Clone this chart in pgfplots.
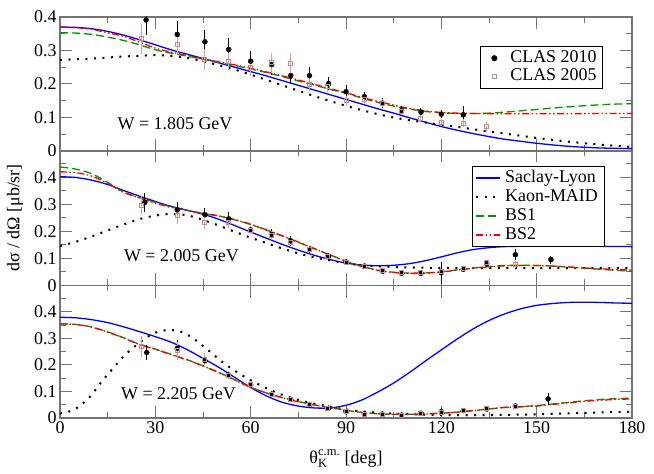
\documentclass[border=0pt]{standalone}
\usepackage{amsmath}
\usepackage{fontspec}
\setmainfont{Liberation Serif}
\usepackage{pgfplots}
\pgfplotsset{compat=1.18}
\definecolor{slblue}{RGB}{0,0,255}
\definecolor{bsgreen}{RGB}{0,150,0}
\definecolor{bsred}{RGB}{255,0,0}
\definecolor{rosy}{RGB}{195,140,140}
\definecolor{framegray}{RGB}{115,115,115}
\pgfplotsset{
  panel/.style={
    scale only axis, width=572bp, xmin=0, xmax=180, ymin=0,
    xtick={0,30,...,180}, minor xtick={15,45,...,165},
    tick align=inside, major tick length=12bp, minor tick length=6bp,
    every tick/.style={framegray, line width=1bp},
    axis line style={framegray, line width=1.2bp},
    ytick={0,0.1,0.2,0.3,0.4},
    yticklabel style={/pgf/number format/fixed},
    /pgf/number format/assume math mode=true,
    tick label style={black},
  },
  lineleg/.style={legend image code/.code={\draw[##1] (0bp,0bp) -- (24bp,0bp);}},
  markleg/.style={legend image code/.code={\path[draw=none,fill=none] (0bp,-3bp) rectangle (24bp,3bp);\draw[mark repeat=2,mark phase=2,##1] plot coordinates {(0bp,0bp) (12bp,0bp) (24bp,0bp)};}},
  sl/.style={slblue, line width=1.3bp, smooth, tension=0.5},
  km/.style={black, line width=2bp, dash pattern=on 2bp off 6.5bp, smooth, tension=0.5},
  bsa/.style={bsgreen, line width=1.3bp, dash pattern=on 8bp off 4bp, smooth, tension=0.5},
  bsb/.style={bsred, line width=1.3bp, dash pattern=on 7bp off 2.5bp on 1.5bp off 2.5bp on 1.5bp off 2.5bp, smooth, tension=0.5},
  clasA/.style={only marks, mark=*, mark size=2.5bp, black,
    error bars/y dir=both, error bars/y explicit, error bars/error mark=none,
    error bars/error bar style={black, line width=1bp}},
  clasB/.style={only marks, mark=square, mark size=2bp, rosy, mark options={line width=1bp},
    error bars/y dir=both, error bars/y explicit, error bars/error mark=none,
    error bars/error bar style={rosy!80, line width=1bp}},
}
\begin{document}
\begin{tikzpicture}[font=\fontsize{18}{21}\selectfont]
\useasboundingbox (0,0) rectangle (654bp,474bp);

% ---------------- TOP: W = 1.805 GeV ----------------
\begin{axis}[panel, at={(60bp,323bp)}, anchor=south west, height=134bp,
  ymax=0.4, minor ytick={0.05,0.15,0.25,0.35}, xticklabels={},
  legend style={at={(0.734,0.786)}, anchor=north west, draw=black, line width=1bp,
    fill=white, inner xsep=2bp, inner ysep=3bp,
    nodes={inner xsep=4bp, inner ysep=1bp, text height=12.5bp, text depth=3.5bp, black}},
  legend cell align=left]
\addplot[sl, forget plot] table {
0 0.370
5 0.369
10 0.365
15 0.357
20 0.346
25 0.332
30 0.317
35 0.302
40 0.289
45 0.276
50 0.263
55 0.250
60 0.237
65 0.224
70 0.210
75 0.196
80 0.182
85 0.168
90 0.154
95 0.140
100 0.126
105 0.113
110 0.099
115 0.086
120 0.073
125 0.062
130 0.052
135 0.043
140 0.035
145 0.029
150 0.023
160 0.014
170 0.009
180 0.007
};
\addplot[km, forget plot] table {
0 0.272
10 0.276
20 0.282
30 0.286
35 0.284
40 0.278
45 0.268
50 0.256
55 0.243
60 0.228
65 0.212
70 0.196
75 0.180
80 0.164
85 0.149
90 0.135
95 0.122
100 0.110
105 0.100
110 0.092
115 0.085
120 0.078
125 0.072
130 0.065
135 0.058
140 0.052
150 0.039
160 0.028
170 0.019
180 0.012
};
\addplot[bsa, forget plot] table {
0 0.353
5 0.352
10 0.348
15 0.340
20 0.330
25 0.317
30 0.302
35 0.292
40 0.283
45 0.274
50 0.264
55 0.255
60 0.245
65 0.234
70 0.222
75 0.209
80 0.197
85 0.184
90 0.172
95 0.158
100 0.145
105 0.134
110 0.125
115 0.118
120 0.114
125 0.112
130 0.112
135 0.113
140 0.116
145 0.120
150 0.124
155 0.128
160 0.132
165 0.135
170 0.138
175 0.140
180 0.141
};
\addplot[bsb, forget plot] table {
0 0.370
5 0.368
10 0.363
15 0.353
20 0.342
25 0.325
30 0.307
35 0.295
40 0.285
45 0.275
50 0.266
55 0.257
60 0.247
65 0.236
70 0.224
75 0.212
80 0.199
85 0.186
90 0.174
95 0.160
100 0.148
105 0.137
110 0.127
115 0.120
120 0.115
125 0.113
130 0.112
140 0.111
150 0.111
160 0.111
170 0.112
180 0.112
};
\addplot[clasA, markleg] table[y error index=2] {
27.1 0.391 0.045
36.9 0.348 0.040
45.6 0.326 0.035
53.1 0.303 0.035
60.0 0.268 0.030
66.6 0.258 0.030
72.6 0.225 0.022
78.5 0.225 0.025
84.5 0.201 0.020
90.0 0.177 0.020
95.8 0.162 0.015
101.5 0.143 0.015
107.5 0.121 0.012
113.6 0.116 0.012
120.0 0.110 0.012
126.9 0.108 0.025
};
\addlegendentry{CLAS 2010}
\addplot[clasB, markleg] table[y error index=2] {
25.7 0.335 0.045
36.9 0.318 0.030
45.6 0.273 0.030
53.1 0.268 0.025
60.0 0.248 0.025
66.6 0.263 0.030
72.6 0.260 0.030
78.5 0.198 0.020
84.1 0.192 0.015
90.0 0.150 0.015
95.8 0.153 0.012
101.5 0.143 0.012
107.5 0.118 0.010
113.6 0.098 0.010
120.0 0.085 0.010
126.9 0.083 0.012
134.3 0.073 0.015
};
\addlegendentry{CLAS 2005}
\node at (axis cs:36.2,0.081) {W = 1.805 GeV};
\end{axis}

% ---------------- MIDDLE: W = 2.005 GeV ----------------
\begin{axis}[panel, at={(60bp,188.5bp)}, anchor=south west, height=135bp,
  ymax=0.5, minor ytick={0.05,0.15,0.25,0.35,0.45}, xticklabels={},
  ylabel={dσ / dΩ [μb/sr]},
  ylabel style={at={(axis description cs:-0.0787,0.5)}, anchor=center},
  legend style={at={(0.7198,0.885)}, anchor=north west, draw=black, line width=1bp,
    fill=white, inner xsep=3bp, inner ysep=2bp,
    nodes={inner xsep=4bp, inner ysep=1.5bp, text height=12.5bp, text depth=3.5bp, black}},
  legend cell align=left, lineleg]
\addplot[sl] table {
0 0.403
5 0.400
10 0.390
15 0.374
20 0.352
25 0.331
30 0.311
35 0.293
40 0.279
45 0.264
50 0.245
55 0.222
60 0.198
65 0.175
70 0.152
75 0.131
80 0.112
85 0.096
90 0.083
95 0.076
100 0.073
105 0.075
110 0.081
115 0.092
120 0.106
125 0.121
130 0.133
135 0.140
140 0.144
150 0.146
160 0.146
170 0.145
180 0.144
};
\addlegendentry{Saclay-Lyon}
\addplot[km] table {
0 0.146
5 0.162
10 0.182
15 0.204
20 0.226
25 0.246
30 0.259
35 0.265
40 0.260
45 0.243
50 0.222
55 0.199
60 0.177
65 0.157
70 0.137
75 0.119
80 0.104
85 0.093
90 0.082
95 0.075
100 0.071
110 0.067
120 0.065
140 0.064
160 0.064
180 0.064
};
\addlegendentry{Kaon-MAID}
\addplot[bsa] table {
0 0.439
5 0.431
10 0.414
15 0.382
20 0.346
25 0.326
30 0.308
35 0.291
40 0.278
45 0.267
50 0.257
55 0.243
60 0.226
65 0.205
70 0.183
75 0.160
80 0.136
85 0.113
90 0.090
95 0.071
100 0.057
105 0.049
110 0.046
115 0.047
120 0.051
125 0.058
130 0.065
135 0.070
140 0.074
145 0.075
150 0.074
155 0.072
160 0.068
165 0.064
170 0.060
175 0.056
180 0.053
};
\addlegendentry{BS1}
\addplot[bsb] table {
0 0.421
5 0.418
10 0.405
15 0.378
20 0.345
25 0.324
30 0.305
35 0.289
40 0.278
45 0.267
50 0.258
55 0.244
60 0.227
65 0.206
70 0.184
75 0.161
80 0.137
85 0.113
90 0.090
95 0.070
100 0.056
105 0.048
110 0.045
115 0.046
120 0.050
125 0.057
130 0.064
135 0.069
140 0.073
145 0.074
150 0.074
155 0.072
160 0.069
165 0.065
170 0.062
175 0.059
180 0.057
};
\addlegendentry{BS2}
\addplot[clasA, forget plot] table[y error index=2] {
26.7 0.308 0.035
36.9 0.280 0.030
45.6 0.262 0.025
53.1 0.247 0.025
60.0 0.206 0.015
66.6 0.189 0.020
72.6 0.165 0.018
78.5 0.133 0.012
84.5 0.108 0.012
90.0 0.087 0.010
95.8 0.072 0.008
101.5 0.053 0.008
107.5 0.045 0.008
113.6 0.045 0.008
120.0 0.047 0.040
126.9 0.060 0.010
134.3 0.081 0.012
143.3 0.114 0.020
154.5 0.096 0.015
};
\addplot[clasB, forget plot] table[y error index=2] {
25.7 0.295 0.035
36.9 0.259 0.030
45.6 0.234 0.025
53.1 0.234 0.020
60.0 0.204 0.015
66.6 0.185 0.015
72.6 0.161 0.012
78.5 0.133 0.010
84.1 0.106 0.010
90.0 0.084 0.008
95.8 0.069 0.008
101.5 0.054 0.006
107.5 0.047 0.006
113.6 0.047 0.006
120.0 0.050 0.006
126.9 0.063 0.008
134.3 0.084 0.010
143.3 0.078 0.012
};
\node at (axis cs:38.2,0.112) {W = 2.005 GeV};
\draw[black, line width=1bp] (rel axis cs:0,0) -- (rel axis cs:1,0);
\end{axis}

% ---------------- BOTTOM: W = 2.205 GeV ----------------
\begin{axis}[panel, at={(60bp,56bp)}, anchor=south west, height=132.5bp,
  ymax=0.5, minor ytick={0.05,0.15,0.25,0.35,0.45},
  xlabel={$\text{θ}^{\text{c.m.}}_{\text{K}}$ [deg]},
  xlabel style={at={(axis description cs:0.5,-0.34)}, anchor=base}]
\addplot[sl] table {
0 0.380
5 0.378
10 0.371
15 0.360
20 0.344
25 0.326
30 0.307
35 0.286
40 0.258
45 0.225
50 0.191
55 0.153
60 0.115
65 0.083
70 0.059
75 0.045
80 0.038
85 0.038
90 0.048
95 0.068
100 0.098
105 0.132
110 0.172
115 0.215
120 0.257
125 0.298
130 0.336
135 0.368
140 0.393
145 0.412
150 0.425
155 0.432
160 0.436
165 0.437
170 0.436
175 0.434
180 0.433
};
\addplot[km] table {
0 0.017
3 0.025
5.2 0.037
7.3 0.056
9.4 0.080
11.2 0.107
13.1 0.137
15.2 0.167
17.3 0.196
20 0.232
23 0.265
27 0.302
30 0.322
34 0.332
38 0.326
42 0.300
47 0.252
52 0.203
58 0.156
64 0.118
70 0.087
75 0.068
80 0.054
85 0.043
90 0.032
95 0.025
100 0.020
105 0.017
110 0.014
120 0.011
135 0.011
150 0.014
165 0.019
180 0.024
};
\addplot[bsa] table {
0 0.355
5 0.353
10 0.343
15 0.325
20 0.303
25 0.278
30 0.260
35 0.240
40 0.220
45 0.197
50 0.172
55 0.144
60 0.116
65 0.094
70 0.077
75 0.062
80 0.050
85 0.040
90 0.029
95 0.021
100 0.016
105 0.014
110 0.014
115 0.015
120 0.018
125 0.022
130 0.028
135 0.034
140 0.040
145 0.043
150 0.047
155 0.053
160 0.059
165 0.065
170 0.070
175 0.073
180 0.075
};
\addplot[bsb] table {
0 0.355
5 0.353
10 0.343
15 0.324
20 0.302
25 0.277
30 0.259
35 0.239
40 0.219
45 0.196
50 0.171
55 0.143
60 0.116
65 0.094
70 0.076
75 0.061
80 0.049
85 0.039
90 0.029
95 0.021
100 0.016
105 0.014
110 0.014
115 0.015
120 0.018
125 0.022
130 0.028
135 0.034
140 0.040
145 0.042
150 0.045
155 0.051
160 0.057
165 0.063
170 0.067
175 0.070
180 0.072
};
\addplot[clasA] table[y error index=2] {
27.3 0.247 0.030
36.9 0.263 0.030
45.6 0.216 0.020
53.1 0.162 0.015
60.0 0.125 0.012
66.6 0.090 0.010
72.6 0.070 0.008
78.5 0.049 0.006
84.5 0.037 0.005
90.0 0.024 0.005
95.8 0.015 0.004
101.5 0.015 0.004
107.5 0.011 0.004
113.6 0.018 0.004
120.0 0.024 0.015
126.9 0.028 0.005
134.3 0.034 0.006
143.3 0.045 0.008
153.6 0.072 0.022
};
\addplot[clasB] table[y error index=2] {
25.7 0.269 0.040
36.9 0.253 0.035
45.6 0.219 0.025
53.1 0.162 0.015
60.0 0.127 0.012
66.6 0.090 0.010
72.6 0.070 0.008
78.5 0.051 0.006
84.1 0.037 0.005
90.0 0.024 0.004
95.8 0.015 0.003
101.5 0.015 0.003
107.5 0.011 0.003
113.6 0.018 0.003
120.0 0.020 0.003
126.9 0.028 0.004
134.3 0.034 0.005
143.3 0.045 0.006
};
\node at (axis cs:37.3,0.0906) {W = 2.205 GeV};
\end{axis}
\end{tikzpicture}
\end{document}
